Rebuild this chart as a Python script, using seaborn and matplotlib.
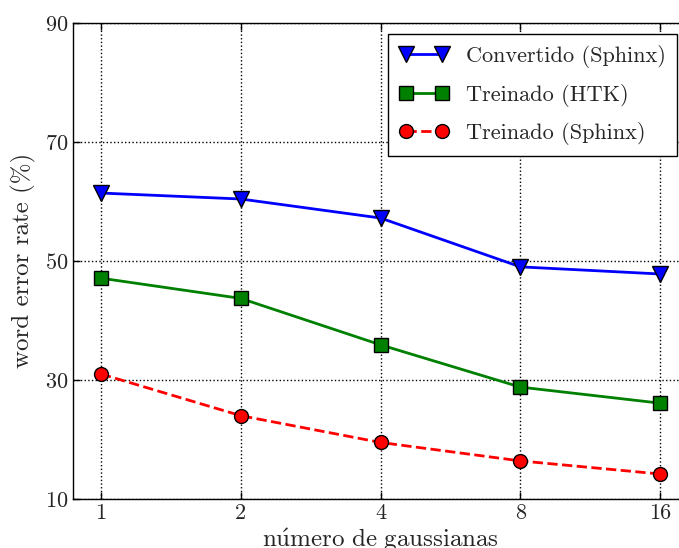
import numpy as np
import pandas as pd
import seaborn as sns
import matplotlib
matplotlib.use("Agg")
import matplotlib.pyplot as plt

# number of gaussians (categorical x) and word error rates
gaussianas = ["1", "2", "4", "8", "16"]
convertido_sphinx = [61.4, 60.4, 57.2, 49.0, 47.8]
treinado_htk = [47.1, 43.7, 35.9, 28.8, 26.1]
treinado_sphinx = [31.0, 24.0, 19.5, 16.4, 14.2]

sns.set_style("ticks")
plt.rcParams["font.family"] = ["cmr10", "DejaVu Serif"]
plt.rcParams["mathtext.fontset"] = "cm"
plt.rcParams["axes.formatter.use_mathtext"] = True
plt.rcParams["xtick.direction"] = "in"
plt.rcParams["ytick.direction"] = "in"

pos = np.arange(len(gaussianas))

fig = plt.figure(figsize=(6.79, 5.48), dpi=100)
ax = fig.add_axes([0.1075, 0.0894, 0.906, 0.869])

sns.lineplot(x=pos, y=convertido_sphinx, ax=ax, color="blue", lw=2,
             marker="v", ms=11, mec="black", mew=1, label="Convertido (Sphinx)")
sns.lineplot(x=pos, y=treinado_htk, ax=ax, color="green", lw=2,
             marker="s", ms=10, mec="black", mew=1, label="Treinado (HTK)")
sns.lineplot(x=pos, y=treinado_sphinx, ax=ax, color="red", lw=2, linestyle="--",
             marker="o", ms=10, mec="black", mew=1, label="Treinado (Sphinx)")

ax.set_xlim(-0.2, 4.2)
ax.set_ylim(10, 90)
ax.set_xticks(pos)
ax.set_xticklabels(gaussianas)
ax.set_yticks([10, 30, 50, 70, 90])
ax.tick_params(top=True, right=True, labelsize=16, length=5, width=1, color="black")
ax.grid(True, color="black", linestyle=":", linewidth=1)
for s in ax.spines.values():
    s.set_color("black")
    s.set_linewidth(1)

ax.set_xlabel(r"$\mathrm{n\acute{u}mero\ de\ gaussianas}$", fontsize=18, labelpad=2)
ax.set_ylabel("word error rate (%)", fontsize=18, labelpad=6)

leg = ax.legend(loc="upper right", numpoints=2, fontsize=16, fancybox=False,
                framealpha=1, edgecolor="black", borderaxespad=0.5,
                handlelength=2.2, labelspacing=0.7, borderpad=0.5)
leg.get_frame().set_linewidth(1)

fig.savefig("out.png", dpi=100)
